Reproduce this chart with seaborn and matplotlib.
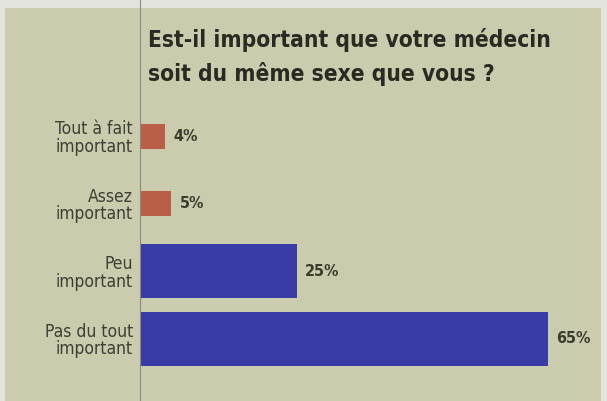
import matplotlib
matplotlib.use("Agg")
import matplotlib.pyplot as plt
import seaborn as sns
import pandas as pd

# ---- data ----
categories = ["Tout à fait\nimportant", "Assez\nimportant", "Peu\nimportant", "Pas du tout\nimportant"]
values = [4, 5, 25, 65]
groups = ["important", "important", "pas important", "pas important"]
value_labels = ["4%", "5%", "25%", "65%"]
title = "Est-il important que votre médecin\nsoit du même sexe que vous ?"

df = pd.DataFrame({"categorie": categories, "valeur": values, "groupe": groups})

# ---- style ----
sns.set_theme(style="white")
plt.rcParams["font.family"] = ["DejaVu Sans"]
plt.rcParams["font.stretch"] = "condensed"

W, H = 607, 401
fig = plt.figure(figsize=(W / 100, H / 100), dpi=100, facecolor="#e4e4df")

# background panel (styling only)
bg = fig.add_axes([5 / W, 0, (601 - 5) / W, (H - 8) / H], zorder=0)
bg.set_facecolor("#cbcbae")
bg.set_xticks([])
bg.set_yticks([])
for s in bg.spines.values():
    s.set_visible(False)

ax = fig.add_axes([140 / W, 0, 1 - 140 / W, 1], zorder=1)
ax.set_facecolor("none")

palette = {"important": "#b95f48", "pas important": "#3a3aa6"}
sub_a = df[df["groupe"] == "important"]
sub_b = df[df["groupe"] == "pas important"]
sns.barplot(data=sub_a, y="categorie", x="valeur", order=categories, hue="groupe",
            palette=palette, width=0.37, ax=ax, legend=False, saturation=1,
            linewidth=0, edgecolor="none")
sns.barplot(data=sub_b, y="categorie", x="valeur", order=categories, hue="groupe",
            palette=palette, width=0.8, ax=ax, legend=False, saturation=1,
            linewidth=0, edgecolor="none")

ax.set_xlim(0, (W - 140) / 6.28)
ax.set_ylim(3.92, -2.02)

for i, (v, lab) in enumerate(zip(values, value_labels)):
    ax.annotate(lab, xy=(v, i), xytext=(6, 0), textcoords="offset points",
                va="center", ha="left", fontsize=11.5, fontweight="bold", color="#3b3b2c")

ax.set_xlabel("")
ax.set_ylabel("")
ax.set_xticks([])
ax.tick_params(axis="y", length=0, pad=5, labelsize=12.5, labelcolor="#3e3e34")
for t in ax.get_yticklabels():
    t.set_horizontalalignment("right")
    t.set_multialignment("right")
    t.set_linespacing(0.95)

for s in ["top", "right", "bottom"]:
    ax.spines[s].set_visible(False)
ax.spines["left"].set_color("#8a8a7e")
ax.spines["left"].set_linewidth(0.8)

fig.text(148 / W, 1 - 28 / H, title, ha="left", va="top", fontsize=16.3,
         fontweight="bold", color="#2a2a22", linespacing=1.55)

fig.savefig("out.png", dpi=100, facecolor=fig.get_facecolor())
